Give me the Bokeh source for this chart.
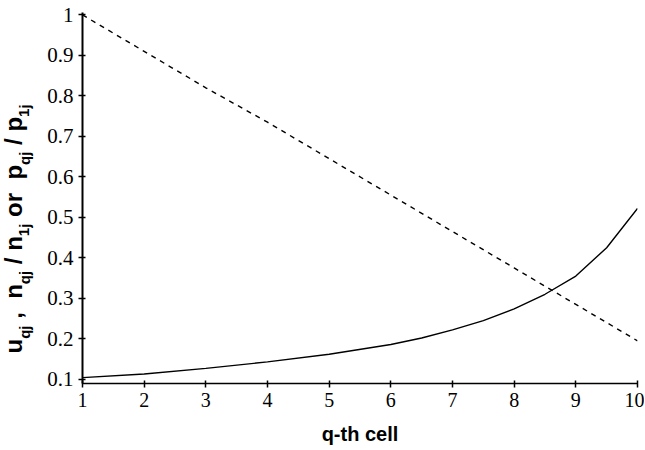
import math
from bokeh.plotting import figure
from bokeh.layouts import row
from bokeh.models import FixedTicker, Range1d, Label
from bokeh.embed import file_html
from bokeh.resources import INLINE

# ---- data ----
q_cells = [1, 2, 3, 4, 5, 6, 7, 8, 9, 10]
ratio_dashed = [1.0, 0.91, 0.82, 0.735, 0.645, 0.555, 0.465, 0.375, 0.285, 0.195]

u_cells = [1, 2, 3, 4, 5, 6, 6.5, 7, 7.5, 8, 8.5, 9, 9.5, 10]
u_values = [0.104, 0.113, 0.127, 0.143, 0.162, 0.186, 0.202, 0.222, 0.245,
            0.274, 0.31, 0.355, 0.425, 0.522]

x_ticks = [1, 2, 3, 4, 5, 6, 7, 8, 9, 10]
y_ticks = [0.1, 0.2, 0.3, 0.4, 0.5, 0.6, 0.7, 0.8, 0.9, 1.0]
y_tick_labels = ["0.1", "0.2", "0.3", "0.4", "0.5", "0.6", "0.7", "0.8", "0.9", "1"]

x_title = "q-th cell"
# y title: (text, kind) where kind is "main" or "sub"
y_title_parts = [("u", "main"), ("qj", "sub"), (" ,  ", "main"),
                 ("n", "main"), ("qj", "sub"), (" / ", "main"),
                 ("n", "main"), ("1j", "sub"), (" or  ", "main"),
                 ("p", "main"), ("qj", "sub"), (" / ", "main"),
                 ("p", "main"), ("1j", "sub")]

# ---- layout constants ----
H = 449
TITLE_W = 40
MAIN_W = 604
BORDER_T, BORDER_B = 12, 66
FS_MAIN = 24
FS_SUB = 15
FRAME_BOTTOM = H - BORDER_B  # canvas pixel row of the frames' bottom
BASE_MAIN, BASE_SUB = 25, 31  # wanted baselines (canvas x)

# Liberation Sans Bold advance widths (em)
ADV = {"u": .611, "q": .611, "j": .278, ",": .278, " ": .278, "n": .611,
       "/": .278, "1": .556, "o": .611, "r": .389, "p": .611}

# ---- y title panel ----
tf = figure(width=TITLE_W, height=H, x_range=Range1d(0, 1), y_range=Range1d(0, 1),
            output_backend="svg", toolbar_location=None,
            min_border_left=0, min_border_right=0,
            min_border_top=BORDER_T, min_border_bottom=BORDER_B,
            x_axis_location=None, y_axis_location=None)
tf.outline_line_color = None
tf.xgrid.visible = False
tf.ygrid.visible = False

cursor = FRAME_BOTTOM - 353
for txt, kind in y_title_parts:
    fs = FS_MAIN if kind == "main" else FS_SUB
    base = BASE_MAIN if kind == "main" else BASE_SUB
    for ch in txt:
        if ch != " ":
            tf.add_layout(Label(x=base - fs / 2, y=cursor,
                                x_units="screen", y_units="screen", text=ch,
                                angle=math.pi / 2, text_font="Liberation Sans",
                                text_font_style="bold", text_font_size=f"{fs}px",
                                text_align="left", text_baseline="alphabetic",
                                text_color="black"))
        cursor += ADV.get(ch, 0.6) * fs

# ---- main chart ----
p = figure(width=MAIN_W, height=H, x_range=Range1d(1, 10), y_range=Range1d(0.0896, 1.006),
           output_backend="svg", toolbar_location=None,
           min_border_left=82 - TITLE_W, min_border_right=7,
           min_border_top=BORDER_T, min_border_bottom=BORDER_B)
p.outline_line_color = None
p.xgrid.visible = False
p.ygrid.visible = False

p.line(q_cells, ratio_dashed, line_color="black", line_width=1.4, line_dash="5 5")
p.line(u_cells, u_values, line_color="black", line_width=1.4)

xa = p.xaxis[0]
xa.ticker = FixedTicker(ticks=x_ticks)
xa.axis_line_width = 1.5
xa.major_tick_line_width = 1.5
xa.major_tick_in = 3
xa.major_tick_out = 4
xa.minor_tick_line_color = None
xa.major_label_text_font = "Liberation Serif"
xa.major_label_text_font_size = "20px"
xa.major_label_text_color = "black"
xa.major_label_standoff = 5
xa.axis_label = x_title
xa.axis_label_text_font = "Liberation Sans"
xa.axis_label_text_font_style = "bold"
xa.axis_label_text_font_size = "20px"
xa.axis_label_text_color = "black"
xa.axis_label_standoff = 13

ya = p.yaxis[0]
ya.ticker = FixedTicker(ticks=y_ticks)
ya.major_label_overrides = {t: lab for t, lab in zip(y_ticks, y_tick_labels)}
ya.axis_line_width = 2
ya.major_tick_line_width = 1.5
ya.major_tick_in = 3
ya.major_tick_out = 4
ya.minor_tick_line_color = None
ya.major_label_text_font = "Liberation Serif"
ya.major_label_text_font_size = "21px"
ya.major_label_text_color = "black"
ya.major_label_standoff = 5

layout = row(tf, p, spacing=0)
open("out.html", "w").write(file_html(layout, INLINE))
